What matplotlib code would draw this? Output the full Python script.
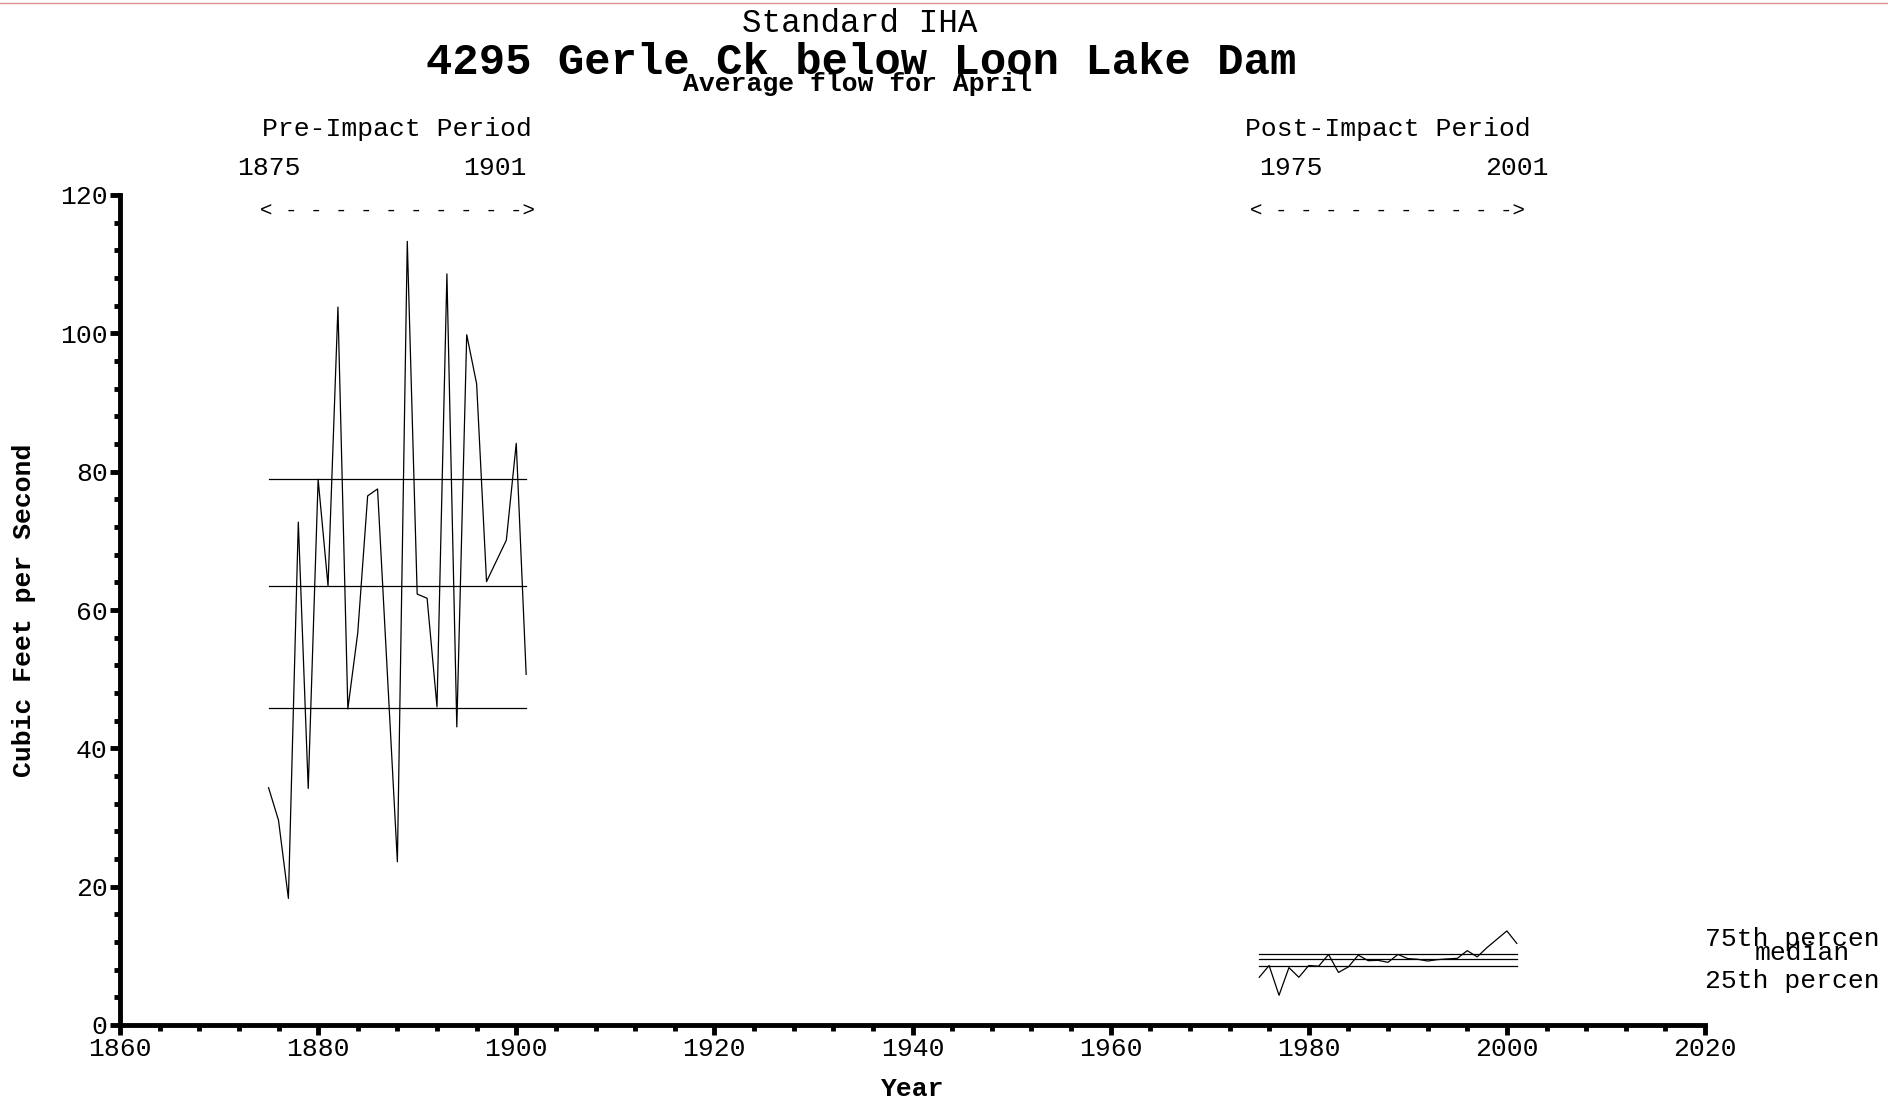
import matplotlib
matplotlib.use("Agg")
import matplotlib.pyplot as plt
from matplotlib.ticker import MultipleLocator
from matplotlib.transforms import blended_transform_factory
from matplotlib.lines import Line2D

plt.rcParams['font.family'] = ['Liberation Mono', 'DejaVu Sans Mono']

# April mean flow, cfs
pre_years = list(range(1875, 1902))
pre_flow = [34.3, 29.6, 18.3, 72.7, 34.2, 78.9, 63.5, 103.8, 45.7, 56.7,
            76.5, 77.5, 50.5, 23.6, 113.3, 62.3, 61.7, 46.0, 108.6, 43.1,
            99.8, 92.7, 64.1, 67.1, 70.1, 84.1, 50.7]
post_years = list(range(1975, 2002))
post_flow = [6.9, 8.6, 4.3, 8.3, 6.9, 8.6, 8.5, 10.2, 7.6, 8.4,
             10.1, 9.3, 9.35, 9.06, 10.2, 9.6, 9.5, 9.25, 9.45, 9.55,
             9.64, 10.75, 9.85, 11.2, 12.4, 13.6, 11.8]

# 25th, median, 75th percentiles for each period
pre_pct = [45.8, 63.5, 78.9]
post_pct = [8.5, 9.5, 10.25]

fig = plt.figure(figsize=(18.88, 11), dpi=100)
ax = fig.add_axes([120 / 1888, 1 - 1025 / 1100, 1585 / 1888, 830 / 1100])

ax.plot(pre_years, pre_flow, color='black', lw=0.9)
ax.plot(post_years, post_flow, color='black', lw=0.9)
for v in pre_pct:
    ax.plot([pre_years[0], pre_years[-1]], [v, v], color='black', lw=0.9)
for v in post_pct:
    ax.plot([post_years[0], post_years[-1]], [v, v], color='black', lw=0.9)

ax.set_xlim(1860, 2020)
ax.set_ylim(0, 120)
ax.xaxis.set_major_locator(MultipleLocator(20))
ax.xaxis.set_minor_locator(MultipleLocator(4))
ax.yaxis.set_major_locator(MultipleLocator(20))
ax.yaxis.set_minor_locator(MultipleLocator(4))
for s in ['top', 'right']:
    ax.spines[s].set_visible(False)
for s in ['left', 'bottom']:
    ax.spines[s].set_linewidth(3.5)
ax.tick_params(which='major', direction='out', length=7, width=3.5,
               labelsize=19, pad=2)
ax.tick_params(which='minor', direction='out', length=4, width=3.5)

ax.set_xlabel('Year', fontsize=19, fontweight='bold', labelpad=11)
ax.set_ylabel('Cubic Feet per Second', fontsize=19, fontweight='bold', labelpad=17)

# headings
fig.text(860 / 1888, 1 - 24 / 1100, 'Standard IHA', fontsize=23.5,
         ha='center', va='center')
fig.text(861 / 1888, 1 - 63 / 1100, '4295 Gerle Ck below Loon Lake Dam',
         fontsize=31.6, fontweight='bold', ha='center', va='center')
fig.text(858 / 1888, 1 - 84 / 1100, 'Average flow for April', fontsize=19,
         fontweight='bold', ha='center', va='center')

# period markers above the plot
tr = blended_transform_factory(ax.transData, fig.transFigure)
periods = [(pre_years, 'Pre-Impact Period', 'center', 'right'),
           (post_years, 'Post-Impact Period', 'left', 'center')]
for yrs, name, ha0, ha1 in periods:
    mid = (yrs[0] + yrs[-1]) / 2
    ax.text(mid, 1 - 129 / 1100, name, transform=tr, fontsize=19,
            ha='center', va='center')
    ax.text(yrs[0], 1 - 168 / 1100, str(yrs[0]), transform=tr, fontsize=19,
            ha=ha0, va='center')
    ax.text(yrs[-1], 1 - 168 / 1100, str(yrs[-1]), transform=tr, fontsize=19,
            ha=ha1, va='center')
    ax.text(mid, 1 - 210 / 1100, '< - - - - - - - - - ->', transform=tr,
            fontsize=15, ha='center', va='center')

# percentile labels at the right edge
ax.annotate('75th percen', xy=(2020, post_pct[2]), xytext=(0, 10.9),
            textcoords='offset points', fontsize=19, va='center', ha='left',
            annotation_clip=False)
ax.annotate('median', xy=(2020, post_pct[1]), xytext=(36, 4.5),
            textcoords='offset points', fontsize=19, va='center', ha='left',
            annotation_clip=False)
ax.annotate('25th percen', xy=(2020, post_pct[0]), xytext=(0, -10.7),
            textcoords='offset points', fontsize=19, va='center', ha='left',
            annotation_clip=False)

fig.add_artist(Line2D([0, 1], [1 - 3 / 1100, 1 - 3 / 1100], color='#e09090',
                      lw=1, transform=fig.transFigure))

fig.savefig('out.png', dpi=100)
